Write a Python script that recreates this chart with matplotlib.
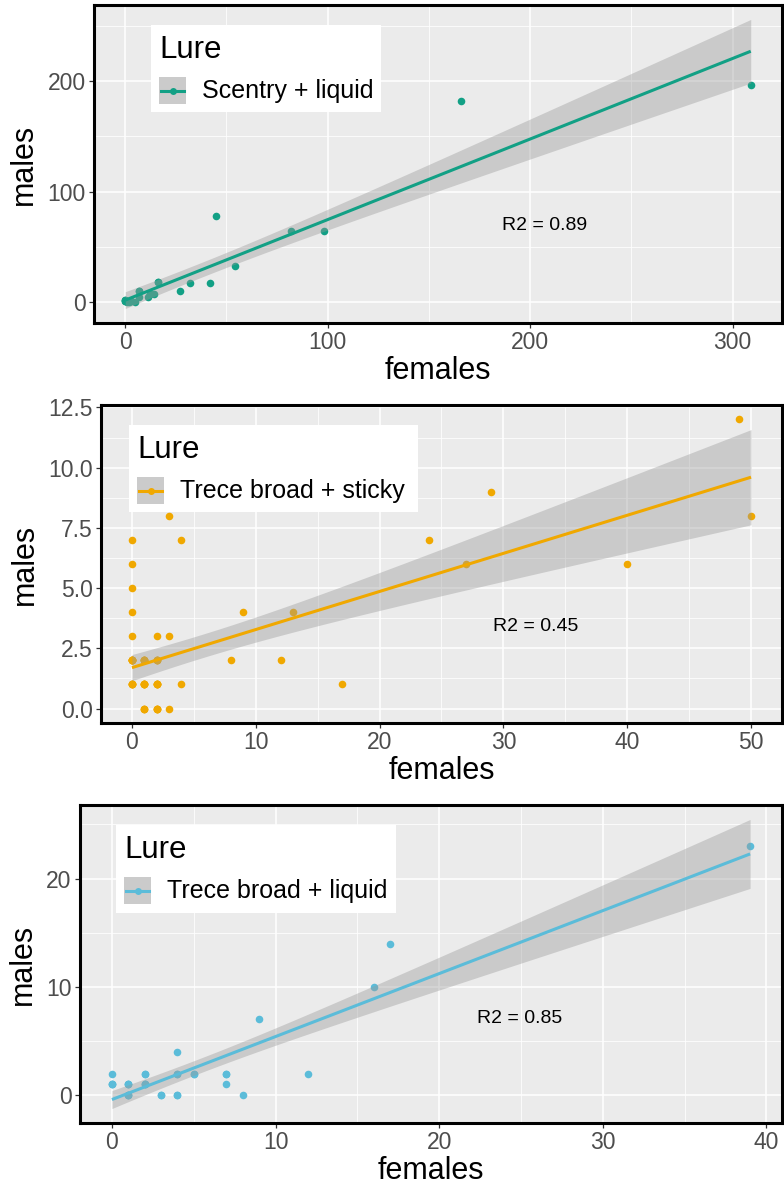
import numpy as np
import matplotlib
matplotlib.use('Agg')
import matplotlib.pyplot as plt
from matplotlib.patches import Rectangle
from matplotlib.lines import Line2D
from matplotlib.ticker import MultipleLocator

plt.rcParams['font.family'] = ['Liberation Sans', 'DejaVu Sans']

# trap counts, one lure per panel (overlapping points near the origin repeated)
lure1 = 'Scentry + liquid'
females1 = [0, 0, 1, 2, 3, 5, 7, 7, 11, 12, 14, 16, 27, 32, 42, 45, 54, 82, 98, 166, 309,
            0, 0, 3, 7, 12, 16]
males1 = [1, 2, 0, 0, 1, 0, 10, 5, 5, 7, 7, 18, 10, 17, 17, 78, 33, 64, 64, 182, 197,
          1, 2, 1, 10, 7, 18]
r2_1 = 'R2 = 0.89'

lure2 = 'Trece broad + sticky'
females2 = [0, 0, 0, 0, 0, 0, 0, 1, 1, 1, 2, 2, 2, 2, 3, 3, 3, 4, 4,
            8, 9, 12, 13, 17, 24, 27, 29, 40, 49, 50,
            0, 0, 0, 0, 0, 0, 0, 0, 0, 0,
            1, 1, 1, 1, 1, 1, 1, 1, 1, 1,
            2, 2, 2, 2, 2, 2, 2, 2, 2, 2]
males2 = [7, 6, 5, 4, 3, 2, 1, 2, 1, 0, 3, 2, 1, 0, 8, 3, 0, 7, 1,
          2, 4, 2, 4, 1, 7, 6, 9, 6, 12, 8,
          1, 1, 1, 1, 2, 2, 2, 2, 2, 2,
          0, 0, 1, 1, 1, 1, 2, 2, 2, 2,
          0, 0, 0, 1, 1, 1, 1, 2, 2, 2]
r2_2 = 'R2 = 0.45'

lure3 = 'Trece broad + liquid'
females3 = [0, 0, 1, 1, 2, 2, 3, 4, 4, 4, 5, 7, 7, 8, 9, 12, 16, 17, 39,
            0, 0, 1, 1, 1, 1, 2, 2, 2, 3, 4, 5, 4, 7]
males3 = [2, 1, 1, 0, 2, 1, 0, 4, 2, 0, 2, 2, 1, 0, 7, 2, 10, 14, 23,
          1, 1, 0, 0, 1, 1, 1, 1, 2, 0, 2, 2, 0, 2]
r2_3 = 'R2 = 0.85'

colors = ['#12A085', '#F0A800', '#5BBCD9']

W, H = 784, 1187
fig = plt.figure(figsize=(W / 100, H / 100), dpi=100)


def fx(x):
    return x / W


def fy(y):
    return 1 - y / H


def t975(df):
    # cornish-fisher approx of the 97.5% t quantile
    z = 1.959964
    return (z + (z**3 + z) / (4 * df) + (5 * z**5 + 16 * z**3 + 3 * z) / (96 * df**2)
            + (3 * z**7 + 19 * z**5 + 17 * z**3 - 15 * z) / (384 * df**3))


def lm_band(x, y, grid):
    n = len(x)
    b, a = np.polyfit(x, y, 1)
    s = np.sqrt(np.sum((y - (a + b * x))**2) / (n - 2))
    se = s * np.sqrt(1 / n + (grid - x.mean())**2 / np.sum((x - x.mean())**2))
    fit = a + b * grid
    t = t975(n - 2)
    return fit, fit - t * se, fit + t * se


def panel(box, fem, mal, color, lure, r2, r2_xy, xstep, ystep, yfmt, legbox):
    l, t, r, b = box
    ax = fig.add_axes([fx(l), fy(b), fx(r - l), (b - t) / H])
    x = np.asarray(fem, float)
    y = np.asarray(mal, float)
    grid = np.linspace(x.min(), x.max(), 100)
    fit, lo, hi = lm_band(x, y, grid)

    ax.set_facecolor('#EBEBEB')
    ax.scatter(x, y, s=30, color=color, lw=0, zorder=2)
    ax.fill_between(grid, lo, hi, color='#999999', alpha=0.4, lw=0, zorder=3)
    ax.plot(grid, fit, color=color, lw=2.2, zorder=4, solid_capstyle='butt')

    xr = x.max() - x.min()
    ax.set_xlim(x.min() - 0.05 * xr, x.max() + 0.05 * xr)
    ylo, yhi = min(y.min(), lo.min()), max(y.max(), hi.max())
    yr = yhi - ylo
    ax.set_ylim(ylo - 0.05 * yr, yhi + 0.05 * yr)

    ax.xaxis.set_major_locator(MultipleLocator(xstep))
    ax.xaxis.set_minor_locator(MultipleLocator(xstep / 2))
    ax.yaxis.set_major_locator(MultipleLocator(ystep))
    ax.yaxis.set_minor_locator(MultipleLocator(ystep / 2))
    ax.yaxis.set_major_formatter(yfmt)
    ax.grid(which='major', color='white', lw=1.1, zorder=0)
    ax.grid(which='minor', color='white', lw=0.55, zorder=0)
    ax.set_axisbelow(True)
    ax.tick_params(which='major', length=3.5, width=0.9, color='#333333',
                   labelsize=16.5, labelcolor='#4D4D4D', pad=2.5)
    ax.tick_params(which='minor', length=0)
    for sp in ax.spines.values():
        sp.set_linewidth(2.2)
        sp.set_color('black')
        sp.set_zorder(6)
    ax.set_xlabel('females', fontsize=22, labelpad=1)
    ax.set_ylabel('males', fontsize=22, labelpad=6)

    ax.text(r2_xy[0], r2_xy[1], r2, fontsize=14, ha='center', va='center', zorder=5)

    # legend, drawn by hand in pixel space
    bl, bt, br, bb = legbox
    fig.add_artist(Rectangle((fx(bl), fy(bb)), fx(br - bl), (bb - bt) / H,
                             transform=fig.transFigure, facecolor='white', lw=0, zorder=7))
    fig.text(fx(bl + 8), fy(bt + 25), 'Lure', fontsize=22.5, va='center', ha='left', zorder=8)
    kl, kt = bl + 8, bt + 52
    fig.add_artist(Rectangle((fx(kl), fy(kt + 27)), fx(27), 27 / H,
                             transform=fig.transFigure, facecolor='#CBCBCB', lw=0, zorder=8))
    fig.add_artist(Line2D([fx(kl + 2), fx(kl + 25)], [fy(kt + 13.5)] * 2,
                          transform=fig.transFigure, color=color, lw=2.2, zorder=9))
    fig.add_artist(Line2D([fx(kl + 13.5)], [fy(kt + 13.5)], transform=fig.transFigure,
                          marker='o', ms=5, color=color, mec='none', zorder=9))
    fig.text(fx(kl + 43), fy(kt + 14), lure, fontsize=18, va='center', ha='left', zorder=8)
    return ax


panel((94, 5, 782, 323), females1, males1, colors[0], lure1, r2_1, (207, 69),
      100, 100, '{x:.0f}', (151, 25, 381, 112))
panel((101, 405, 782, 723), females2, males2, colors[1], lure2, r2_2, (32.6, 3.4),
      10, 2.5, '{x:.1f}', (129, 425, 418, 512))
panel((80, 805, 782, 1123), females3, males3, colors[2], lure3, r2_3, (24.9, 7.1),
      10, 10, '{x:.0f}', (116, 825, 396, 913))

fig.savefig('out.png', dpi=100)
